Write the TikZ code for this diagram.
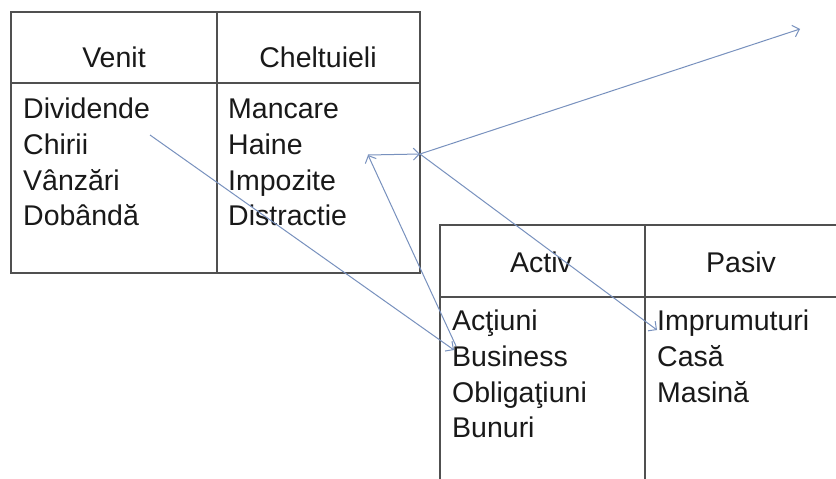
\documentclass[tikz,border=0pt]{standalone}
\usepackage{fontspec}
\setmainfont{Liberation Sans}
\usetikzlibrary{arrows.meta}
\definecolor{gridc}{RGB}{80,80,80}
\definecolor{arrc}{RGB}{120,145,190}
\begin{document}
\begin{tikzpicture}[x=1pt,y=-1pt,
  grid/.style={draw=gridc,line width=1.4pt},
  txt/.style={anchor=base west,inner sep=0pt,font=\fontsize{28.5}{34}\selectfont,text=black!90},
  head/.style={anchor=base,inner sep=0pt,font=\fontsize{28.5}{34}\selectfont,text=black!90},
  conn/.style={draw=arrc,line width=1pt,-{Straight Barb[length=6pt,width=12pt]}}]
\useasboundingbox (0,0) rectangle (836,479);
\fill[white] (0,0) rectangle (836,479);
% left table
\draw[grid] (11,12) rectangle (420,273);
\draw[grid] (11,83) -- (420,83);
\draw[grid] (217,12) -- (217,273);
\node[head] (venit) at (114,67) {Venit};
\node[head] (chelt) at (318,67) {Cheltuieli};
\node[txt] (divid) at (23,118) {Dividende};
\node[txt] (chirii) at (23,154) {Chirii};
\node[txt] (vanz) at (23,190) {Vânzări};
\node[txt] (dob) at (23,225) {Dobândă};
\node[txt] (manc) at (228,118) {Mancare};
\node[txt] (haine) at (228,154) {Haine};
\node[txt] (impoz) at (228,190) {Impozite};
\node[txt] (distr) at (228,225) {Distractie};
% right table
\draw[grid] (836,225) -- (440,225) -- (440,479);
\draw[grid] (440,297) -- (836,297);
\draw[grid] (645,225) -- (645,479);
\node[head] (activ) at (541,272) {Activ};
\node[head] (pasiv) at (741,272) {Pasiv};
\node[txt] (actiuni) at (452,330) {Acţiuni};
\node[txt] (business) at (452,366) {Business};
\node[txt] (oblig) at (452,402) {Obligaţiuni};
\node[txt] (bunuri) at (452,437) {Bunuri};
\node[txt] (impr) at (657,330) {Imprumuturi};
\node[txt] (casa) at (657,366) {Casă};
\node[txt] (masina) at (657,402) {Masină};
% connectors
\coordinate (c1) at (150,135);
\coordinate (c2) at (454,350);
\coordinate (c3) at (456,346);
\coordinate (c4) at (368,155);
\coordinate (c5) at (420,154);
\coordinate (c6) at (800,29);
\coordinate (c7) at (657,330);
\draw[conn] (c1) -- (c2);
\draw[conn] (c3) -- (c4);
\draw[conn] (c4) -- (c5);
\draw[conn] (c5) -- (c6);
\draw[conn] (c5) -- (c7);
\end{tikzpicture}
\end{document}
